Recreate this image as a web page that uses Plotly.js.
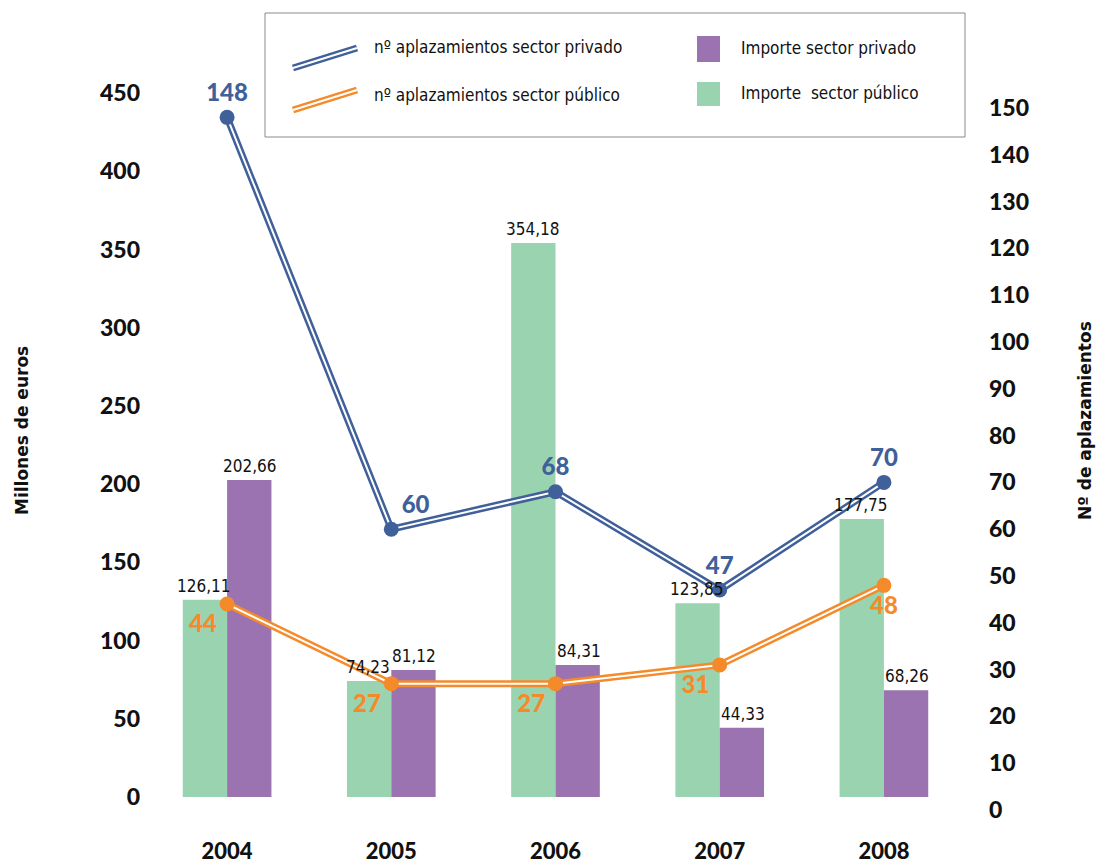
<!DOCTYPE html>
<html>
<head>
<meta charset="utf-8">
<script src="https://cdn.plot.ly/plotly-3.0.1.min.js"></script>
<style>html,body{margin:0;padding:0;background:#fff;}#chart{width:1098px;height:864px;}</style>
</head>
<body>
<div id="chart"></div>
<script>
// ---- data ----
const years = ['2004', '2005', '2006', '2007', '2008'];
const importePublico = [126.11, 74.23, 354.18, 123.85, 177.75];
const importePrivado = [202.66, 81.12, 84.31, 44.33, 68.26];
const aplazPrivado = [148, 60, 68, 47, 70];
const aplazPublico = [44, 27, 27, 31, 48];
const leftTicks = [0, 50, 100, 150, 200, 250, 300, 350, 400, 450];

const fmt = v => v.toFixed(2).replace('.', ',');

const BLUE = '#40609a', ORANGE = '#f58a2b', PURPLE = '#9b73b1', GREEN = '#9ad3af';
const NARROW = '"Liberation Sans Narrow", "DejaVu Sans Condensed", "Liberation Sans", sans-serif';
const BOLD = 'Lato, "DejaVu Sans", sans-serif';

const barText = {family: NARROW, size: 17, color: '#111'};

const traces = [
  {type: 'bar', x: years, y: importePublico, name: 'Importe sector público', marker: {color: GREEN},
   showlegend: false, hoverinfo: 'x+y'},
  {type: 'bar', x: years, y: importePrivado, name: 'Importe sector privado', marker: {color: PURPLE},
   showlegend: false, hoverinfo: 'x+y'},
  // private line (double line effect)
  {type: 'scatter', mode: 'lines', x: years, y: aplazPrivado, yaxis: 'y2', line: {color: BLUE, width: 7}, showlegend: false, hoverinfo: 'skip'},
  {type: 'scatter', mode: 'lines', x: years, y: aplazPrivado, yaxis: 'y2', line: {color: '#fff', width: 2}, showlegend: false, hoverinfo: 'skip'},
  {type: 'scatter', mode: 'markers+text', x: years, y: aplazPrivado, yaxis: 'y2', name: 'nº aplazamientos sector privado',
   marker: {color: BLUE, size: 15}, text: aplazPrivado.map(String),
   textposition: ['top center', 'top right', 'top center', 'top center', 'top center'],
   textfont: {family: BOLD, size: 24, color: BLUE, weight: 900}, cliponaxis: false, showlegend: false},
  // public line
  {type: 'scatter', mode: 'lines', x: years, y: aplazPublico, yaxis: 'y2', line: {color: ORANGE, width: 7}, showlegend: false, hoverinfo: 'skip'},
  {type: 'scatter', mode: 'lines', x: years, y: aplazPublico, yaxis: 'y2', line: {color: '#fff', width: 2}, showlegend: false, hoverinfo: 'skip'},
  {type: 'scatter', mode: 'markers+text', x: years, y: aplazPublico, yaxis: 'y2', name: 'nº aplazamientos sector público',
   marker: {color: ORANGE, size: 15}, text: aplazPublico.map(String),
   textposition: ['bottom left', 'bottom left', 'bottom left', 'bottom left', 'bottom center'],
   textfont: {family: BOLD, size: 24, color: ORANGE, weight: 900}, cliponaxis: false, showlegend: false}
];

// paper coordinate helpers based on margins (plot: x 145-966, y 93-810)
const PX = px => (px - 145) / 821;
const PY = py => (810 - py) / 717;

const shapes = [
  {type: 'rect', xref: 'paper', yref: 'paper', x0: PX(265), x1: PX(965), y0: PY(137), y1: PY(13), line: {color: '#8a8a8a', width: 1}, fillcolor: 'rgba(0,0,0,0)'},
  {type: 'line', xref: 'paper', yref: 'paper', x0: PX(293), y0: PY(68), x1: PX(357), y1: PY(48), line: {color: BLUE, width: 7}},
  {type: 'line', xref: 'paper', yref: 'paper', x0: PX(293), y0: PY(68), x1: PX(357), y1: PY(48), line: {color: '#fff', width: 2}},
  {type: 'line', xref: 'paper', yref: 'paper', x0: PX(293), y0: PY(110), x1: PX(357), y1: PY(90), line: {color: ORANGE, width: 7}},
  {type: 'line', xref: 'paper', yref: 'paper', x0: PX(293), y0: PY(110), x1: PX(357), y1: PY(90), line: {color: '#fff', width: 2}},
  {type: 'rect', xref: 'paper', yref: 'paper', x0: PX(697), x1: PX(720), y0: PY(62), y1: PY(36), line: {width: 0}, fillcolor: PURPLE},
  {type: 'rect', xref: 'paper', yref: 'paper', x0: PX(697), x1: PX(720), y0: PY(106), y1: PY(82), line: {width: 0}, fillcolor: GREEN}
];

const legFont = {family: NARROW, size: 17, color: '#111'};
const titleFont = {family: '"DejaVu Sans", sans-serif', size: 17, color: '#111', weight: 'bold'};
const annotations = [
  {xref: 'paper', yref: 'paper', x: PX(372), y: PY(47), text: 'nº aplazamientos sector privado', showarrow: false, xanchor: 'left', yanchor: 'middle', font: legFont},
  {xref: 'paper', yref: 'paper', x: PX(372), y: PY(95), text: 'nº aplazamientos sector público', showarrow: false, xanchor: 'left', yanchor: 'middle', font: legFont},
  {xref: 'paper', yref: 'paper', x: PX(739), y: PY(48), text: 'Importe sector privado', showarrow: false, xanchor: 'left', yanchor: 'middle', font: legFont},
  {xref: 'paper', yref: 'paper', x: PX(739), y: PY(93), text: 'Importe&nbsp; sector público', showarrow: false, xanchor: 'left', yanchor: 'middle', font: legFont},
  {xref: 'paper', yref: 'paper', x: PX(22), y: PY(431), text: 'Millones de euros', textangle: -90, showarrow: false, xanchor: 'center', yanchor: 'middle', font: titleFont},
  {xref: 'paper', yref: 'paper', x: PX(1085), y: PY(421), text: 'Nº de aplazamientos', textangle: -90, showarrow: false, xanchor: 'center', yanchor: 'middle', font: titleFont}
];

// bar value labels (drawn above all traces), placed on the category index / data scale
years.forEach((yr, i) => {
  annotations.push({xref: 'x', yref: 'y', x: i, y: importePublico[i], xshift: -23, yshift: 2, yanchor: 'bottom', xanchor: 'center',
    text: fmt(importePublico[i]), showarrow: false, font: barText});
  annotations.push({xref: 'x', yref: 'y', x: i, y: importePrivado[i], xshift: 23, yshift: 2, yanchor: 'bottom', xanchor: 'center',
    text: fmt(importePrivado[i]), showarrow: false, font: barText});
});

const tickFont = {family: BOLD, size: 23, color: '#111', weight: 900};

const layout = {
  width: 1098, height: 864,
  margin: {l: 145, r: 132, t: 93, b: 54},
  paper_bgcolor: '#fff', plot_bgcolor: '#fff',
  showlegend: false,
  barmode: 'group', bargap: 0.46, bargroupgap: 0,
  xaxis: {type: 'category', categoryorder: 'array', categoryarray: years, range: [-0.5, 4.5], autorange: false,
          showgrid: false, showline: false, zeroline: false,
          ticks: '', tickfont: {family: BOLD, size: 22, color: '#111', weight: 900}, ticklabelstandoff: 26},
  yaxis: {range: [-8.3, 450], autorange: false, tickvals: leftTicks, showgrid: false, zeroline: false, showline: false,
          tickfont: tickFont, ticklabelstandoff: 4},
  yaxis2: {overlaying: 'y', side: 'right', range: [0, 153.2], autorange: false, tick0: 0, dtick: 10, showgrid: false, zeroline: false, showline: false,
           tickfont: tickFont, ticklabelstandoff: 22},
  shapes: shapes,
  annotations: annotations
};

Plotly.newPlot('chart', traces, layout, {displayModeBar: false, staticPlot: true});
</script>
</body>
</html>
